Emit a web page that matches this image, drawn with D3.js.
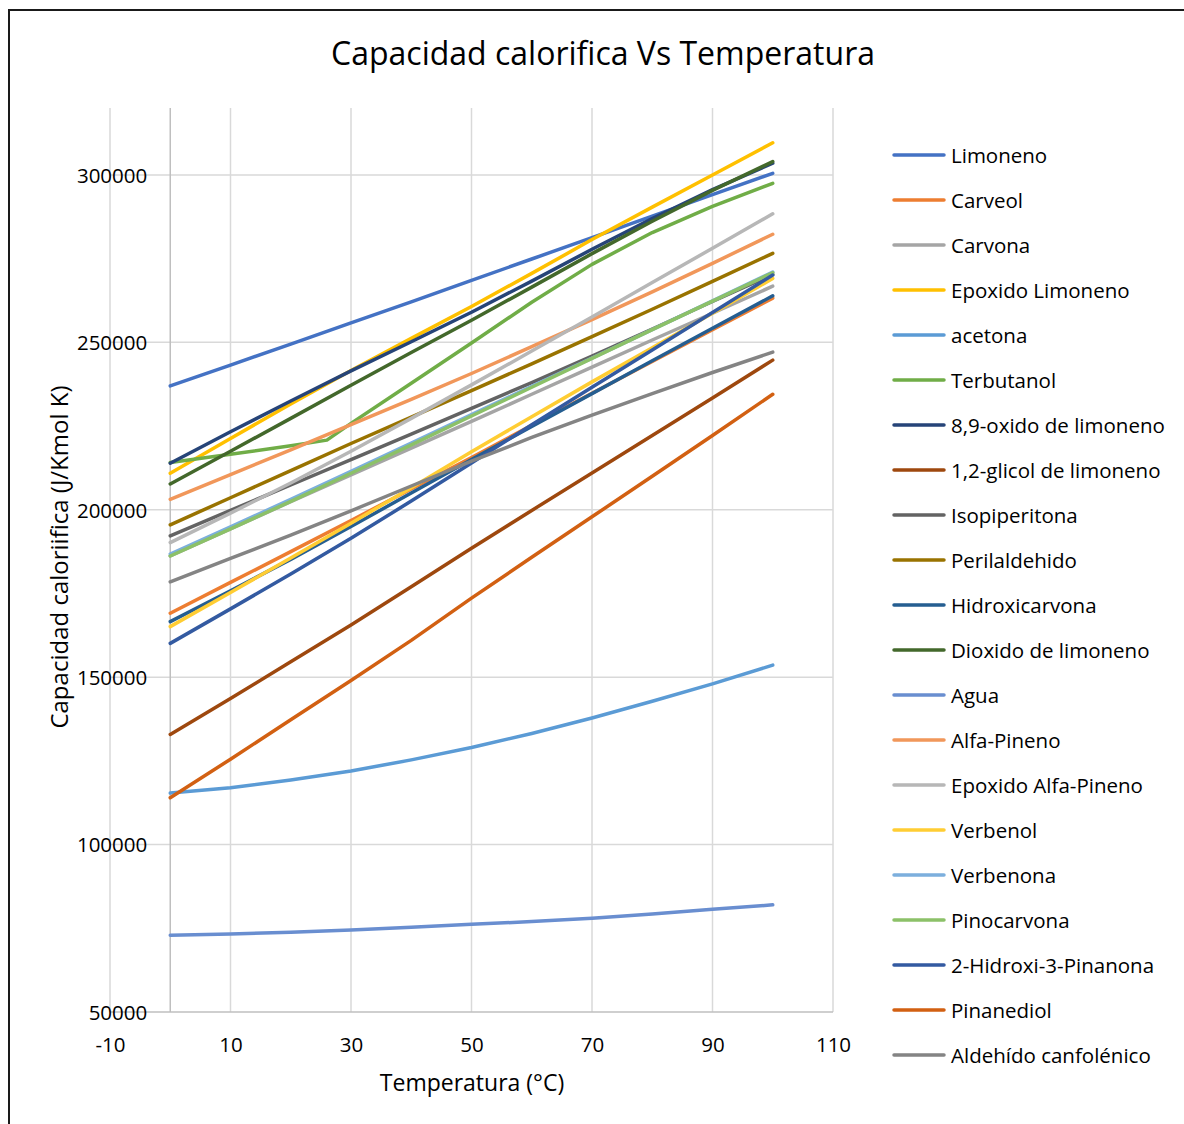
<!DOCTYPE html>
<html>
<head>
<meta charset="utf-8">
<script src="https://cdn.jsdelivr.net/npm/d3@7"></script>
<style>
	body { margin: 0; background: #fff; }
	svg { display: block; }
	text { font-family: "Open Sans", sans-serif; fill: #000; }
</style>
</head>
<body>
<div id="chart"></div>
<script>
// temperatures (°C) of the calculated points
const temps = [0, 10, 20, 30, 40, 50, 60, 70, 80, 90, 100];
// terbutanol melts near 26 °C, so it has its own points
const tempsTerbutanol = [0, 10, 20, 26, 30, 40, 50, 60, 70, 80, 90, 100];

// Cp values in J/Kmol K
const limoneno = [237000, 243200, 249500, 255800, 262100, 268500, 274900, 281300, 287700, 294100, 300500];
const carveol = [169100, 178300, 187500, 196800, 206200, 215600, 225200, 234800, 244300, 253800, 263200];
const carvona = [186200, 194300, 202400, 210400, 218400, 226400, 234500, 242600, 250700, 258700, 266800];
const epoxidoLimoneno = [210900, 221300, 231600, 241600, 251200, 260700, 270600, 280700, 290400, 300000, 309600];
const acetona = [115400, 117000, 119300, 122000, 125300, 129000, 133200, 137800, 142800, 148000, 153600];
const terbutanol = [214100, 216600, 219100, 220800, 225800, 237800, 249800, 262000, 273300, 282800, 290600, 297500];
const oxido89 = [213900, 223300, 232500, 241500, 250200, 259000, 268300, 277800, 287000, 295600, 303500];
const glicol12 = [132900, 143600, 154600, 165600, 177000, 188500, 199800, 211000, 222200, 233400, 244700];
const isopiperitona = [192200, 199800, 207400, 215000, 222600, 230300, 238000, 245900, 254000, 262200, 270300];
const perilaldehido = [195500, 203600, 211700, 219800, 227700, 235600, 243600, 251700, 259900, 268200, 276600];
const hidroxicarvona = [166600, 175800, 185200, 195000, 205000, 215000, 224900, 234700, 244500, 254200, 263900];
const dioxido = [207700, 217500, 227300, 237200, 247000, 256600, 266500, 276500, 286200, 295400, 304000];
const agua = [72900, 73300, 73800, 74500, 75300, 76200, 77000, 78000, 79300, 80700, 82000];
const alfaPineno = [203100, 210500, 217900, 225400, 233000, 240700, 248700, 256800, 265100, 273600, 282300];
const epoxidoAlfaPineno = [190200, 199000, 208000, 217500, 227300, 237300, 247400, 257600, 267900, 278100, 288400];
const verbenol = [165100, 175300, 185600, 196000, 206600, 217300, 227800, 238200, 248400, 258700, 269100];
const verbenona = [186800, 194900, 203100, 211500, 219900, 228400, 236900, 245300, 253800, 262400, 271000];
const pinocarvona = [186200, 194300, 202500, 210900, 219400, 228000, 236600, 245200, 253800, 262300, 270800];
const hidroxiPinanona = [160100, 170400, 180800, 191500, 202600, 214000, 225400, 236600, 247700, 258900, 270100];
const pinanediol = [114000, 125500, 137300, 149000, 161000, 173600, 185800, 197900, 210000, 222200, 234500];
const aldehidoCanfolenico = [178500, 185500, 192400, 199700, 207100, 214500, 221600, 228300, 234700, 241000, 247100];

const seriesNames = [
	"Limoneno", "Carveol", "Carvona", "Epoxido Limoneno", "acetona", "Terbutanol",
	"8,9-oxido de limoneno", "1,2-glicol de limoneno", "Isopiperitona", "Perilaldehido",
	"Hidroxicarvona", "Dioxido de limoneno", "Agua", "Alfa-Pineno", "Epoxido Alfa-Pineno",
	"Verbenol", "Verbenona", "Pinocarvona", "2-Hidroxi-3-Pinanona", "Pinanediol",
	"Aldehído canfolénico"
];
const seriesValues = [
	limoneno, carveol, carvona, epoxidoLimoneno, acetona, terbutanol,
	oxido89, glicol12, isopiperitona, perilaldehido,
	hidroxicarvona, dioxido, agua, alfaPineno, epoxidoAlfaPineno,
	verbenol, verbenona, pinocarvona, hidroxiPinanona, pinanediol,
	aldehidoCanfolenico
];
const seriesColors = [
	"#4472C4", "#ED7D31", "#A5A5A5", "#FFC000", "#5B9BD5", "#70AD47",
	"#264478", "#9E480E", "#636363", "#997300",
	"#255E91", "#43682B", "#698ED0", "#F1975A", "#B7B7B7",
	"#FFCD33", "#7CAFDD", "#8CC168", "#335AA1", "#D26012",
	"#848484"
];

const xTicks = [-10, 10, 30, 50, 70, 90, 110];
const yTicks = [50000, 100000, 150000, 200000, 250000, 300000];

{
	const W = 1184, H = 1124;
	const plot = { left: 110, right: 833, top: 108, bottom: 1012 };

	const svg = d3.select("#chart").append("svg")
		.attr("width", W)
		.attr("height", H);

	// outer frame (only left and top edge fall inside the picture)
	svg.append("path")
		.attr("d", `M9,${H + 5} V10 H${W + 5}`)
		.attr("fill", "none")
		.attr("stroke", "#1a1a1a")
		.attr("stroke-width", 2);

	const x = d3.scaleLinear().domain([-10, 110]).range([plot.left, plot.right]);
	const y = d3.scaleLinear().domain([50000, 320000]).range([plot.bottom, plot.top]);

	// gridlines
	const grid = svg.append("g");
	grid.selectAll("line.v")
		.data(xTicks)
		.enter().append("line")
			.attr("x1", d => x(d)).attr("x2", d => x(d))
			.attr("y1", plot.top).attr("y2", plot.bottom)
			.attr("stroke", "#d9d9d9")
			.attr("stroke-width", 1.5);
	grid.selectAll("line.h")
		.data(yTicks.slice(1))
		.enter().append("line")
			.attr("x1", plot.left).attr("x2", plot.right)
			.attr("y1", d => y(d)).attr("y2", d => y(d))
			.attr("stroke", "#d9d9d9")
			.attr("stroke-width", 1.5);

	// axis lines (value axis crosses at 0)
	grid.append("line")
		.attr("x1", x(0)).attr("x2", x(0))
		.attr("y1", plot.top).attr("y2", plot.bottom)
		.attr("stroke", "#bfbfbf")
		.attr("stroke-width", 1.5);
	grid.append("line")
		.attr("x1", plot.left).attr("x2", plot.right)
		.attr("y1", y(50000)).attr("y2", y(50000))
		.attr("stroke", "#bfbfbf")
		.attr("stroke-width", 1.5);

	// tick labels (plain hyphen for negatives, like the original)
	const xAxis = svg.append("g")
		.attr("transform", `translate(0,${plot.bottom})`)
		.call(d3.axisBottom(x).tickValues(xTicks).tickSize(0).tickPadding(0).tickFormat(d => String(d)));
	xAxis.select(".domain").remove();
	xAxis.selectAll("text")
		.attr("y", 40)
		.attr("dy", null)
		.style("font-family", '"Open Sans", sans-serif')
		.style("font-size", "20.5px")
		.attr("fill", "#000");

	const yAxis = svg.append("g")
		.attr("transform", `translate(${x(0) - 23},0)`)
		.call(d3.axisLeft(y).tickValues(yTicks).tickSize(0).tickPadding(0).tickFormat(d => String(d)));
	yAxis.select(".domain").remove();
	yAxis.selectAll("text")
		.attr("dy", "0.36em")
		.style("font-family", '"Open Sans", sans-serif')
		.style("font-size", "20.5px")
		.attr("fill", "#000");

	// series
	const line = d3.line()
		.x(d => x(d[0]))
		.y(d => y(d[1]))
		.curve(d3.curveLinear);

	const series = seriesNames.map((name, i) => {
		const xs = seriesValues[i] === terbutanol ? tempsTerbutanol : temps;
		return { name, color: seriesColors[i], points: seriesValues[i].map((v, j) => [xs[j], v]) };
	});

	svg.append("g").selectAll("path")
		.data(series)
		.enter().append("path")
			.attr("d", d => line(d.points))
			.attr("fill", "none")
			.attr("stroke", d => d.color)
			.attr("stroke-width", 3.5)
			.attr("stroke-linejoin", "round")
			.attr("stroke-linecap", "round");

	// titles
	svg.append("text")
		.attr("x", 603).attr("y", 65)
		.attr("text-anchor", "middle")
		.style("font-size", "32px")
		.text("Capacidad calorifica Vs Temperatura");

	svg.append("text")
		.attr("x", 472).attr("y", 1091)
		.attr("text-anchor", "middle")
		.style("font-size", "23px")
		.text("Temperatura (°C)");

	svg.append("text")
		.attr("transform", "translate(68,557) rotate(-90)")
		.attr("text-anchor", "middle")
		.style("font-size", "24px")
		.text("Capacidad caloriifica (J/Kmol K)");

	// legend
	const legend = svg.append("g").selectAll("g")
		.data(series)
		.enter().append("g")
			.attr("transform", (d, i) => `translate(0,${155 + i * 45})`);
	legend.append("line")
		.attr("x1", 894).attr("x2", 944)
		.attr("stroke", d => d.color)
		.attr("stroke-width", 3.5)
		.attr("stroke-linecap", "round");
	legend.append("text")
		.attr("x", 951).attr("y", 8)
		.style("font-size", "20.5px")
		.text(d => d.name);
}
</script>
</body>
</html>
